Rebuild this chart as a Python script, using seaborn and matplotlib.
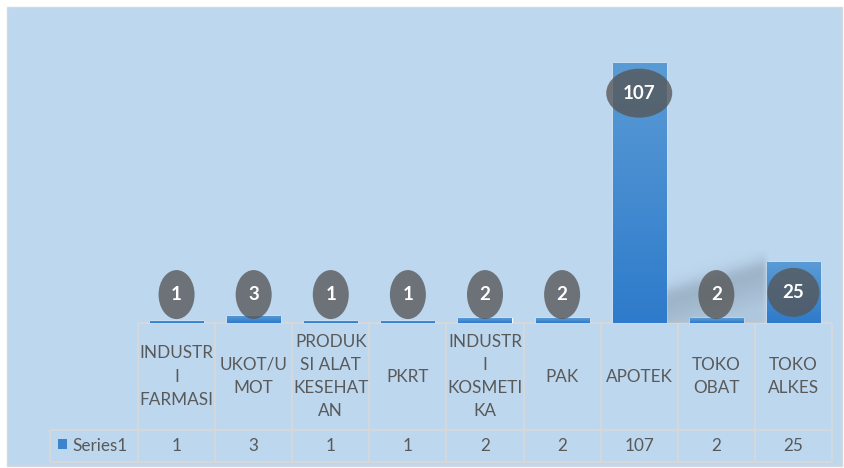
import numpy as np
import matplotlib
matplotlib.use("Agg")
import matplotlib.pyplot as plt
import seaborn as sns
from matplotlib.patches import Rectangle, Ellipse
from matplotlib.colors import LinearSegmentedColormap

categories = ["INDUSTR\nI\nFARMASI", "UKOT/U\nMOT", "PRODUK\nSI ALAT\nKESEHAT\nAN", "PKRT",
              "INDUSTR\nI\nKOSMETI\nKA", "PAK", "APOTEK", "TOKO\nOBAT", "TOKO\nALKES"]
values = [1, 3, 1, 1, 2, 2, 107, 2, 25]
series_name = "Series1"

sns.set_theme(style="white")
plt.rcParams['font.family'] = ['Lato', 'DejaVu Sans']

W, H = 844, 468
fig = plt.figure(figsize=(W / 100, H / 100), dpi=100)
fig.patch.set_facecolor('white')

BG = '#BDD7EE'
GRID = '#D3D8DD'
TXT = '#595959'

panel = Rectangle((7 / W, (H - 466) / H), (842 - 7) / W, (466 - 7) / H,
                  transform=fig.transFigure, facecolor=BG, edgecolor='#D9D9D9', lw=1, zorder=-5)
fig.patches.append(panel)

base_px, top_px = 323, 19.3
ax = fig.add_axes([138 / W, (H - base_px) / H, 694 / W, (base_px - top_px) / H])
ax.set_facecolor('none')

sns.barplot(x=categories, y=values, ax=ax, color='#4A8ED3', width=0.69, saturation=1, zorder=2)
ax.set_xlim(-0.5, 8.5)
ax.set_ylim(0, 125)
ax.axis('off')

cmap = LinearSegmentedColormap.from_list('g', ['#2E7BCB', '#5B9BD5'])
grad = np.linspace(0, 1, 256).reshape(-1, 1)
for p in list(ax.patches):
    x, y = p.get_x(), p.get_y()
    w, h = p.get_width(), p.get_height()
    im = ax.imshow(grad, extent=[x, x + w, y, y + h], origin='lower', aspect='auto',
                   cmap=cmap, zorder=2.5)
    im.set_clip_path(p)

px_x = 694 / 9
px_y = (base_px - top_px) / 125

# soft shadow decoration between APOTEK and TOKO ALKES bars
def dx(px):
    return -0.5 + (px - 138) / px_x

def dy(py):
    return (base_px - py) / px_y

sx0, sx1, sy0, sy1 = 665, 770, 250, 323
xs = np.arange(sx0, sx1) + 0.5
ys = np.arange(sy0, sy1) + 0.5
XX, YY = np.meshgrid(xs, ys)
edge = 292 - (XX - sx0) * (30 / 100)
t = (YY - edge) / 10
alpha = 1 / (1 + np.exp(-t * 2.2))
alpha *= np.clip(1 - (YY - edge) / 70, 0.35, 1)
alpha *= np.clip((sx1 - XX) / 8, 0, 1)
rgba = np.zeros(XX.shape + (4,))
rgba[..., 0] = 40 / 255
rgba[..., 1] = 52 / 255
rgba[..., 2] = 64 / 255
rgba[..., 3] = 0.27 * alpha
ax.imshow(rgba, extent=[dx(sx0), dx(sx1), dy(sy1), dy(sy0)], origin='upper',
          aspect='auto', zorder=1.5, interpolation='bilinear')

ax.set_xlim(-0.5, 8.5)
ax.set_ylim(0, 125)

# data labels
wmap = {1: 36, 2: 52, 3: 66}
for i, v in enumerate(values):
    ly = max(v - 12.4, 11.7)
    e = Ellipse((i, ly), width=wmap[len(str(v))] / px_x, height=49 / px_y,
                facecolor='#565656', alpha=0.78, edgecolor='none', zorder=4)
    ax.add_patch(e)
    ax.text(i, ly, str(v), ha='center', va='center', color='white',
            fontsize=13.5, fontweight='bold', zorder=5)

# data table
tr = ax.get_xaxis_transform()
ax_h = base_px - top_px
y_mid = -(430 - base_px) / ax_h
y_bot = -(462 - base_px) / ax_h
x_left = -0.5 - 88 / px_x
lk = dict(color=GRID, lw=1.6, clip_on=False, transform=tr, zorder=1, solid_capstyle='butt')
ax.plot([-0.5, 8.5], [0, 0], **lk)
ax.plot([x_left, 8.5], [y_mid, y_mid], **lk)
ax.plot([x_left, 8.5], [y_bot, y_bot], **lk)
ax.plot([x_left, x_left], [y_mid, y_bot], **lk)
for b in np.arange(-0.5, 9.0, 1.0):
    ax.plot([b, b], [0, y_bot], **lk)

y_head = -((430 + base_px) / 2 - base_px) / ax_h
y_val = -((462 + 430) / 2 - base_px) / ax_h
for i, (c, v) in enumerate(zip(categories, values)):
    ax.text(i, y_head, c, transform=tr, ha='center', va='center', color=TXT,
            fontsize=12.3, linespacing=1.55, clip_on=False)
    ax.text(i, y_val, str(v), transform=tr, ha='center', va='center', color=TXT,
            fontsize=12.3, clip_on=False)

ax.add_patch(Rectangle((-0.5 - 80 / px_x, -(449 - base_px) / ax_h), 9 / px_x, 10 / ax_h,
                       transform=tr, facecolor='#3C84CC', edgecolor='none', clip_on=False))
ax.text(-0.5 - 66 / px_x, y_val, series_name, transform=tr, ha='left', va='center',
        color=TXT, fontsize=12.3, clip_on=False)

fig.savefig('out.png', dpi=100, facecolor='white')
